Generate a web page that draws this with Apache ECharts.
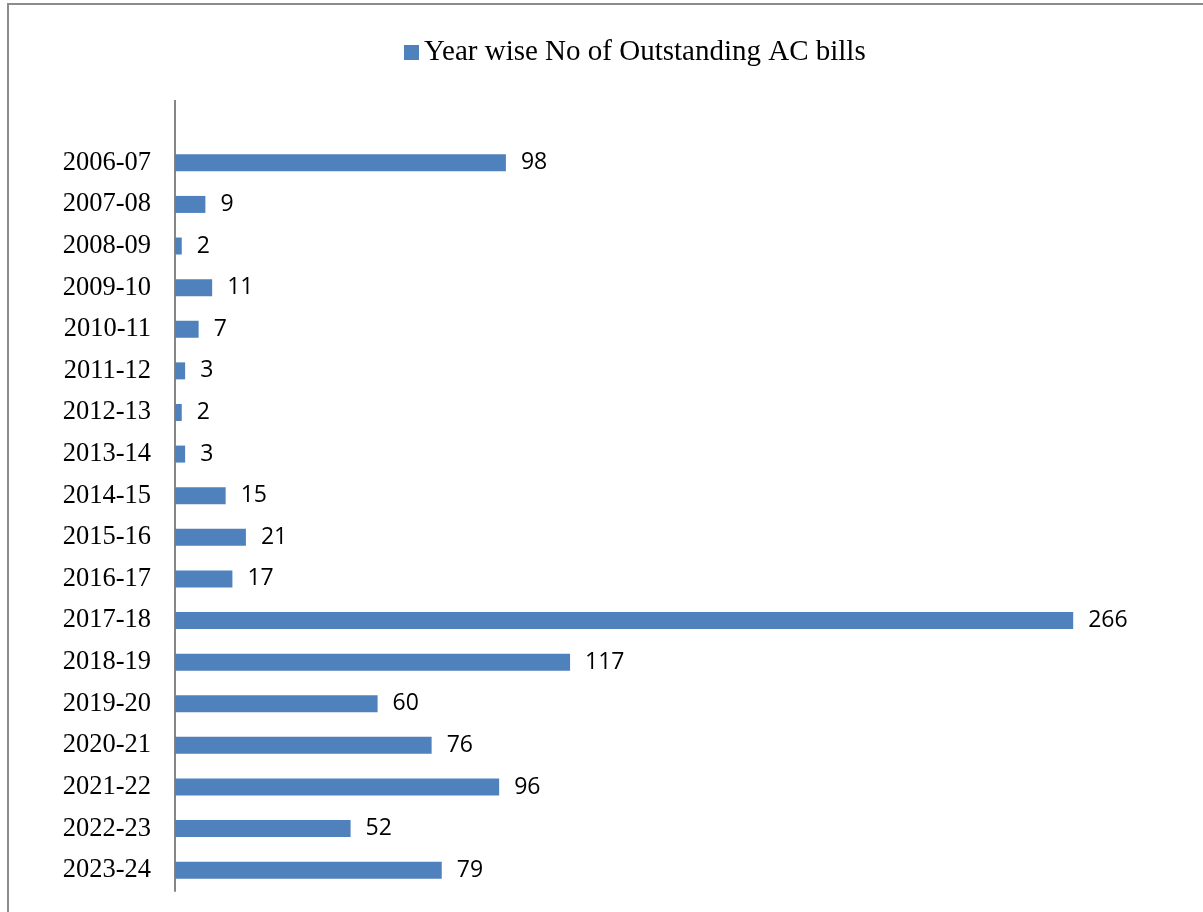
<!DOCTYPE html>
<html>
<head>
<meta charset="utf-8">
<script src="https://cdn.jsdelivr.net/npm/echarts@6/dist/echarts.min.js"></script>
<style>
  html, body { margin: 0; padding: 0; background: #fff; }
  #chart { width: 1203px; height: 912px; }
</style>
</head>
<body>
<div id="chart"></div>
<script>
const categories = ["2006-07","2007-08","2008-09","2009-10","2010-11","2011-12","2012-13","2013-14","2014-15","2015-16","2016-17","2017-18","2018-19","2019-20","2020-21","2021-22","2022-23","2023-24"];
const seriesName = "Year wise No of Outstanding AC bills";
const values = [98, 9, 2, 11, 7, 3, 2, 3, 15, 21, 17, 266, 117, 60, 76, 96, 52, 79];

const chart = echarts.init(document.getElementById('chart'), null, { renderer: 'canvas' });
chart.setOption({
  backgroundColor: '#ffffff',
  animation: false,
  graphic: [
    { type: 'rect', shape: { x: 8, y: 4, width: 1400, height: 1000 }, style: { fill: 'none', stroke: '#8c8c8c', lineWidth: 2 }, z: 100 },
    { type: 'line', shape: { x1: 175, y1: 100, x2: 175, y2: 142 }, style: { stroke: '#868686', lineWidth: 2 }, z: 100 }
  ],
  legend: {
    data: [seriesName],
    left: 399,
    top: 33,
    icon: 'rect',
    itemWidth: 15,
    itemHeight: 15,
    itemGap: 8,
    textStyle: { fontFamily: 'Liberation Serif', fontSize: 29, color: '#000' }
  },
  grid: { left: 175, width: 1013, top: 142, bottom: 21, containLabel: false },
  xAxis: {
    type: 'value', min: 0, max: 300,
    show: false,
    splitLine: { show: false }
  },
  yAxis: {
    type: 'category',
    data: categories,
    inverse: true,
    axisLine: { show: true, lineStyle: { color: '#868686', width: 2 } },
    axisTick: { show: false },
    axisLabel: { fontFamily: 'Liberation Serif', fontSize: 26.5, color: '#000', margin: 24 }
  },
  series: [{
    name: seriesName,
    type: 'bar',
    data: values,
    barWidth: 17,
    itemStyle: { color: '#4F81BD' },
    label: {
      show: true, position: 'right', distance: 15,
      fontFamily: 'Open Sans', fontSize: 23, color: '#000'
    }
  }]
});
</script>
</body>
</html>
